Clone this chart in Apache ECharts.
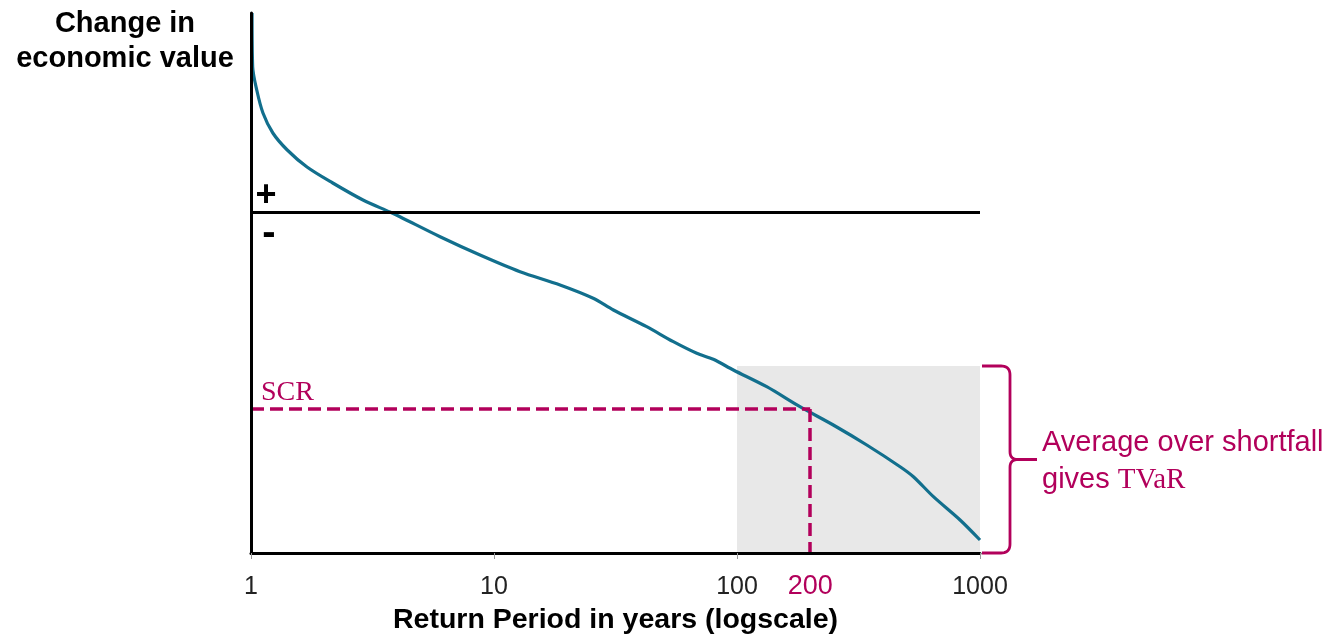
<!DOCTYPE html>
<html><head><meta charset="utf-8">
<script src="https://cdn.jsdelivr.net/npm/echarts@6/dist/echarts.min.js"></script>
<style>html,body{margin:0;padding:0;background:#fff}#c{width:1339px;height:638px}</style>
</head><body><div id="c"></div>
<script>
// Return period (years, log scale) and change in economic value (arbitrary units)
const returnPeriods = [1.01, 1.016, 1.056, 1.12, 1.23, 1.41, 1.70, 2.17, 2.89, 3.73, 4.10, 6.00, 8.76, 12.8, 18.7, 25.6, 31.0, 42.5, 54.7, 68.3, 79.9, 96.6, 132.5, 181.6, 249, 342, 469, 532, 643, 828, 1000];
const valueChange   = [19.9, 14.5, 12.2, 9.9, 7.9, 6.2, 4.5, 2.9, 1.2, 0, -0.47, -2.47, -4.3, -5.97, -7.3, -8.63, -9.8, -11.47, -12.97, -14.13, -14.73, -15.8, -17.47, -19.47, -21.3, -23.3, -25.47, -26.47, -28.47, -30.8, -32.8];
const xTickLabels = [1, 10, 100, 1000];
const scrValue = -19.7;
const scrPeriod = 200;
const tailStart = 100, tailEnd = 1000;
const tailTop = -15.4;
const yMin = -34.1, yMax = 19.9;

const crimson = '#b2005b';
const sans = 'Liberation Sans, Arial, sans-serif';
const serif = 'Liberation Serif, Times New Roman, serif';

const chart = echarts.init(document.getElementById('c'));
chart.setOption({
  animation: false,
  grid: { left: 251, right: 359, top: 13, bottom: 85, outerBoundsMode: 'none', containLabel: false },
  xAxis: {
    type: 'log', logBase: 10, min: 1, max: 1000, z: 5,
    axisLine: { onZero: false, lineStyle: { color: '#000', width: 3 } },
    axisTick: { show: true, length: 6, lineStyle: { color: '#999', width: 1 } },
    axisLabel: { margin: 22, fontSize: 25, color: '#222', fontFamily: sans,
      formatter: v => xTickLabels.includes(Math.round(v)) ? String(Math.round(v)) : '' },
    splitLine: { show: false },
    name: 'Return Period in years (logscale)', nameLocation: 'middle', nameGap: 53,
    nameTextStyle: { fontSize: 28.5, fontWeight: 'bold', color: '#000', fontFamily: sans }
  },
  yAxis: {
    type: 'value', min: yMin, max: yMax, z: 5,
    axisLine: { show: true, onZero: false, lineStyle: { color: '#000', width: 3 } },
    axisTick: { show: false }, axisLabel: { show: false }, splitLine: { show: false }
  },
  series: [{
    type: 'line',
    data: returnPeriods.map((x, i) => [x, valueChange[i]]),
    showSymbol: false, smooth: 0.3, z: 3,
    lineStyle: { color: '#126f8d', width: 3.2 },
    markArea: { silent: true, itemStyle: { color: '#e8e8e8' },
      data: [[{ coord: [tailStart, tailTop] }, { coord: [tailEnd, yMin] }]] },
    markLine: {
      silent: true, symbol: ['none', 'none'],
      data: [
        [{ coord: [1, 0], lineStyle: { color: '#000', width: 3, type: 'solid' }, label: { show: false } }, { coord: [1000, 0] }],
        [{ coord: [1, scrValue], lineStyle: { color: crimson, width: 3.5, type: [13, 6] },
           label: { show: true, position: 'insideStartTop', formatter: 'SCR', color: crimson, fontSize: 28, fontFamily: serif, distance: [10, 2] } },
         { coord: [scrPeriod, scrValue] }],
        [{ coord: [scrPeriod, scrValue], lineStyle: { color: crimson, width: 3.5, type: [13, 6] },
           label: { show: true, position: 'end', formatter: String(scrPeriod), color: crimson, fontSize: 27, fontFamily: sans, distance: 20 } },
         { coord: [scrPeriod, yMin] }]
      ]
    }
  }]
});

const p = (x, y) => chart.convertToPixel({ xAxisIndex: 0, yAxisIndex: 0 }, [x, y]);
const tp = p(tailEnd, tailTop), bp = p(tailEnd, yMin), zp = p(1, 0);
const bx = tp[0], y0 = tp[1], y1 = bp[1], ym = (y0 + y1) / 2;
const vx = bx + 30;

// sample quadratic curve into points
function quad(a, c, b, n) {
  const pts = [];
  for (let i = 0; i <= n; i++) {
    const t = i / n, u = 1 - t;
    pts.push([u * u * a[0] + 2 * u * t * c[0] + t * t * b[0], u * u * a[1] + 2 * u * t * c[1] + t * t * b[1]]);
  }
  return pts;
}
const upper = [[bx + 2, y0]].concat(quad([vx - 9, y0], [vx, y0], [vx, y0 + 9], 10), quad([vx, ym - 8], [vx, ym], [vx + 8, ym], 10), [[vx + 27, ym]]);
const lower = [[vx + 8, ym]].concat(quad([vx + 8, ym], [vx, ym], [vx, ym + 8], 10), quad([vx, y1 - 9], [vx, y1], [vx - 9, y1], 10), [[bx + 2, y1]]);

chart.setOption({
  graphic: [
    { type: 'polyline', shape: { points: upper }, style: { stroke: crimson, lineWidth: 2.8, fill: null } },
    { type: 'polyline', shape: { points: lower }, style: { stroke: crimson, lineWidth: 2.8, fill: null } },
    { type: 'text', x: bx + 62, y: ym + 2, style: {
        text: '{a|Average over shortfall}\n{a|gives }{s|TVaR}',
        verticalAlign: 'middle', align: 'left',
        rich: { a: { fontSize: 29, fontFamily: sans, fill: crimson, color: crimson, lineHeight: 37 },
                s: { fontSize: 29, fontFamily: serif, fill: crimson, color: crimson, lineHeight: 37 } } } },
    { type: 'text', x: 125, y: 41, style: { text: 'Change in\neconomic value', font: 'bold 29px ' + sans, fill: '#000', align: 'center', verticalAlign: 'middle', lineHeight: 35 } },
    { type: 'text', x: zp[0] + 15, y: zp[1] - 16, style: { text: '+', font: 'bold 36px ' + sans, fill: '#000', align: 'center', verticalAlign: 'middle' } },
    { type: 'text', x: zp[0] + 18, y: zp[1] + 22, style: { text: '-', font: 'bold 40px ' + sans, fill: '#000', align: 'center', verticalAlign: 'middle' } }
  ]
});
</script></body></html>
